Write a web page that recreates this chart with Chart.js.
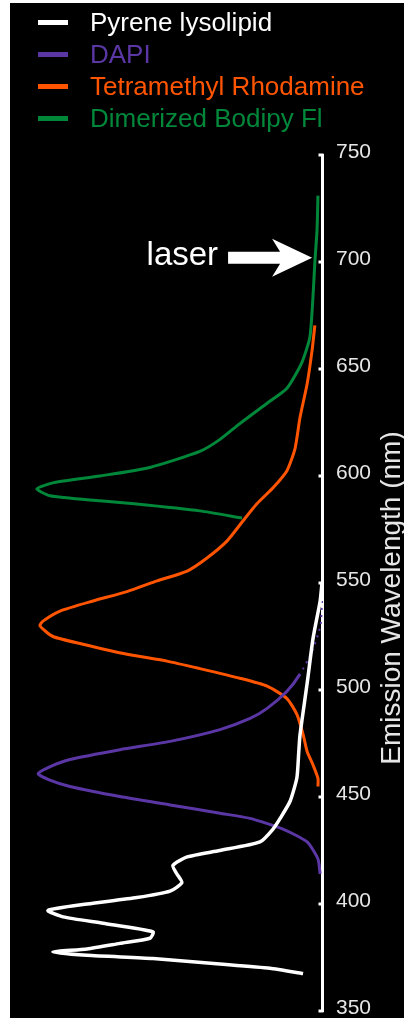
<!DOCTYPE html>
<html>
<head>
<meta charset="utf-8">
<script src="https://cdn.jsdelivr.net/npm/chart.js@4/dist/chart.umd.min.js"></script>
<style>
  html, body { margin: 0; padding: 0; background: #ffffff; width: 404px; height: 1021px; overflow: hidden; }
  #bg { position: absolute; left: 10px; top: 3px; width: 394px; height: 1015px; background: #000; }
  #c { position: absolute; left: 0; top: 0; }
  #legend { position: absolute; left: 0; top: 0; font-family: "Liberation Sans", Arial, sans-serif; font-size: 26px; }
  .row { position: absolute; left: 0; height: 32px; line-height: 32px; white-space: nowrap; }
  .sw { position: absolute; left: 38px; top: 14px; width: 30px; height: 5px; }
  .tx { position: absolute; left: 90px; top: 0; }
</style>
</head>
<body>
<div id="bg"></div>
<canvas id="c" width="404" height="1021"></canvas>
<div id="legend"></div>
<script>
// ---- data ----
const seriesNames = ['Pyrene lysolipid', 'DAPI', 'Tetramethyl Rhodamine', 'Dimerized Bodipy Fl'];
const seriesColors = ['#ffffff', '#5b37a6', '#ff5500', '#00873a'];

const pyreneNm  = [550, 541.6, 524, 503, 479, 471, 459, 448, 440, 435, 429, 425, 422, 418, 414, 410, 406, 403, 400, 397, 394, 391, 387, 384, 381.6, 379, 377.6, 376, 374.5, 372, 370, 367.5];
const pyreneInt = [0, 0.6, 2.9, 4.8, 7.1, 7.5, 8.1, 10.3, 13.5, 15.8, 20, 33, 43.5, 48.1, 46.8, 45.2, 49, 59.7, 75.8, 88.4, 83.5, 70.6, 54.5, 55.5, 65.2, 75.8, 86.8, 75.8, 54.5, 33, 16.8, 6.1];

const dapiNm  = [541.6, 530, 518, 507.4, 499.4, 491.4, 486.7, 481.5, 476, 472.1, 467.5, 464, 460.9, 458, 454.9, 450.2, 446.3, 442.4, 440, 435, 429, 421, 414];
const dapiInt = [0, 0.5, 3.2, 7.1, 11.3, 17.7, 23.2, 32.9, 49, 65.2, 81.3, 88, 91.6, 88, 81.3, 65.2, 49, 32.9, 23.2, 12.6, 4.8, 1.3, 0.6];

const rhodNm  = [670.4, 658.7, 643, 627.3, 612.8, 602.5, 594.5, 587, 579, 569.7, 561.7, 555.6, 551, 546, 541.6, 536.9, 532.2, 530, 525, 521.4, 516.7, 513.5, 510, 505.5, 501.8, 496, 488.6, 479.3, 471.3, 465, 458.7, 454.9];
const rhodInt = [2.3, 3.2, 4.8, 7.1, 8.7, 11.3, 15.8, 21, 25.5, 30.6, 37.1, 43.5, 53.2, 62.9, 73.9, 84.5, 90, 91, 86.8, 77.1, 62.9, 50, 39.4, 26.5, 17.7, 11.3, 8.1, 6.1, 4.8, 2.9, 1.3, 1.3];

const bodipyNm  = [731, 715, 700, 684, 665, 653, 641, 634, 624.5, 617, 611.5, 604, 600, 596.8, 594, 590.8, 588.4, 587, 583.7, 580.4];
const bodipyInt = [1.3, 1.6, 2.3, 2.9, 3.9, 6.5, 11.3, 17.7, 26.5, 33, 39.4, 55.5, 71.6, 86.8, 92, 87.8, 71.6, 60.6, 39.4, 25.8];

const wavelengthTicks = [350, 400, 450, 500, 550, 600, 650, 700, 750];
const axisTitle = 'Emission Wavelength (nm)';
const laserLabel = 'laser';
const laserNm = 702;
const dapiSolidBelowNm = 508;

// ---- build datasets ----
function pts(nm, inten) { return nm.map((v, i) => ({ x: inten[i], y: v })); }
const seriesData = [pts(pyreneNm, pyreneInt), pts(dapiNm, dapiInt), pts(rhodNm, rhodInt), pts(bodipyNm, bodipyInt)];

const datasets = seriesData.map((d, i) => ({
  label: seriesNames[i],
  data: d,
  showLine: true,
  borderColor: seriesColors[i],
  backgroundColor: seriesColors[i],
  borderWidth: i === 0 ? 3.5 : 3,
  pointRadius: 0,
  tension: 0.2,
  fill: false,
  clip: false,
  segment: i === 1 ? { borderDash: ctx => (ctx.p0.parsed.y > dapiSolidBelowNm ? [2, 5] : undefined),
                       borderWidth: ctx => (ctx.p0.parsed.y > dapiSolidBelowNm ? 2 : 3) } : undefined
}));

// ---- legend (HTML) ----
const leg = document.getElementById('legend');
seriesNames.forEach((n, i) => {
  const r = document.createElement('div');
  r.className = 'row';
  r.style.top = (6 + i * 32) + 'px';
  r.innerHTML = '<span class="sw" style="background:' + seriesColors[i] + '"></span><span class="tx" style="color:' + seriesColors[i] + '">' + n + '</span>';
  leg.appendChild(r);
});

// ---- plugin: inward ticks, rotated title, laser arrow ----
const decor = {
  id: 'decor',
  afterDraw(chart) {
    const ctx = chart.ctx;
    const ys = chart.scales.y, xs = chart.scales.x;
    const axX = ys.left + 1.5;
    ctx.save();
    ctx.strokeStyle = '#ffffff';
    ctx.lineWidth = 3;
    ys.ticks.forEach(t => {
      const py = ys.getPixelForValue(t.value);
      ctx.beginPath();
      ctx.moveTo(axX - 5, py);
      ctx.lineTo(axX, py);
      ctx.stroke();
    });
    ctx.fillStyle = '#e6e6e6';
    ctx.font = '28px "Liberation Sans", Arial, sans-serif';
    ctx.textAlign = 'center';
    ctx.textBaseline = 'middle';
    ctx.translate(ys.right - 12, (ys.top + ys.bottom) / 2 + 15);
    ctx.rotate(-Math.PI / 2);
    ctx.fillText(axisTitle, 0, 0);
    ctx.restore();

    ctx.save();
    const tipX = xs.getPixelForValue(3.2);
    const tipY = ys.getPixelForValue(laserNm);
    ctx.fillStyle = '#ffffff';
    ctx.beginPath();
    ctx.moveTo(tipX - 84, tipY - 6);
    ctx.lineTo(tipX - 32, tipY - 6);
    ctx.lineTo(tipX - 40, tipY - 19);
    ctx.lineTo(tipX, tipY);
    ctx.lineTo(tipX - 40, tipY + 19);
    ctx.lineTo(tipX - 32, tipY + 6);
    ctx.lineTo(tipX - 84, tipY + 6);
    ctx.closePath();
    ctx.fill();
    ctx.font = '33px "Liberation Sans", Arial, sans-serif';
    ctx.textAlign = 'right';
    ctx.textBaseline = 'alphabetic';
    ctx.fillText(laserLabel, tipX - 94, tipY + 7);
    ctx.restore();
  }
};

new Chart(document.getElementById('c'), {
  type: 'scatter',
  data: { datasets },
  options: {
    responsive: false,
    animation: false,
    devicePixelRatio: 1,
    layout: { padding: { left: 12, top: 155, bottom: 10, right: 0 } },
    plugins: { legend: { display: false }, tooltip: { enabled: false } },
    scales: {
      x: { type: 'linear', min: 0, max: 100, reverse: true, display: false },
      y: {
        type: 'linear', position: 'right', min: 350, max: 750,
        afterBuildTicks: s => { s.ticks = wavelengthTicks.map(v => ({ value: v })); },
        afterFit: s => { s.width = 82; s.paddingTop = 0; s.paddingBottom = 0; },
        border: { display: true, color: '#ffffff', width: 3 },
        grid: { display: true, drawOnChartArea: false, drawTicks: false, color: 'rgba(0,0,0,0)' },
        ticks: {
          color: '#e6e6e6', padding: 14, labelOffset: -3,
          font: { family: '"Liberation Sans", Arial, sans-serif', size: 21 }
        },
        title: { display: false }
      }
    }
  },
  plugins: [decor]
});
</script>
</body>
</html>
